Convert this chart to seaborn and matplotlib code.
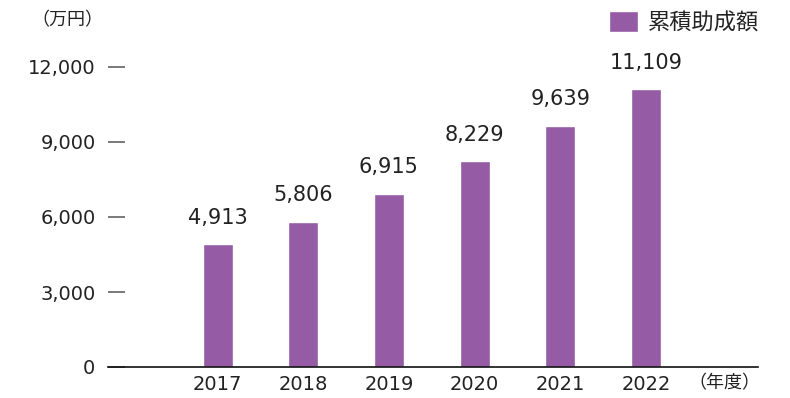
import matplotlib
matplotlib.use("Agg")
import matplotlib.pyplot as plt
import seaborn as sns
import pandas as pd

years = ["2017", "2018", "2019", "2020", "2021", "2022"]
values = [4913, 5806, 6915, 8229, 9639, 11109]
yticks = [0, 3000, 6000, 9000, 12000]
series_name = "累積助成額"
unit_y = "（万円）"
unit_x = "（年度）"

sns.set_theme(style="white")
plt.rcParams["font.family"] = ["DejaVu Sans", "Noto Sans CJK JP"]

BAR = "#955ba5"
TXT = "#222222"
JP = ["Noto Sans CJK JP", "DejaVu Sans"]

df = pd.DataFrame({"year": years, "value": values})

fig = plt.figure(figsize=(7.9, 3.98), dpi=100)
ax = fig.add_axes([108/790, 31/398, 650/790, 300/398])

sns.barplot(data=df, x="year", y="value", color=BAR, width=0.35,
            saturation=1, ax=ax, label=series_name)

ax.set_xlim(-1.28, 6.31)
ax.set_ylim(0, 12000)
ax.set_yticks(yticks)
ax.set_yticklabels([f"{v:,}" for v in yticks], fontsize=14, color=TXT)
ax.set_xticklabels(years, fontsize=14, color=TXT)
ax.set_xlabel("")
ax.set_ylabel("")

for s in ["top", "right", "left"]:
    ax.spines[s].set_visible(False)
ax.spines["bottom"].set_color("#111111")
ax.spines["bottom"].set_linewidth(1.2)

ax.tick_params(axis="y", left=True, direction="in", length=12, width=1.1,
               color="#555555", pad=9)
ax.tick_params(axis="x", bottom=False, length=0, pad=6)

for i, v in enumerate(values):
    ax.annotate(f"{v:,}", xy=(i, v), xytext=(0, 12), textcoords="offset points",
                ha="center", va="bottom", fontsize=15, color=TXT, annotation_clip=False)

fig.text(67/790, 1 - 20/398, unit_y, ha="center", va="center", fontsize=13,
         color=TXT, family=JP)
fig.text(724/790, 1 - 383/398, unit_x, ha="center", va="center", fontsize=13,
         color=TXT, family=JP)

leg = ax.legend(loc="upper right", bbox_to_anchor=(770/790, 1.0), bbox_transform=fig.transFigure,
                frameon=False, prop={"family": JP, "size": 16}, handlelength=1.3,
                handleheight=1.05, handletextpad=0.45, borderaxespad=0.1)
for t in leg.get_texts():
    t.set_color(TXT)

fig.savefig("out.png", dpi=100)
